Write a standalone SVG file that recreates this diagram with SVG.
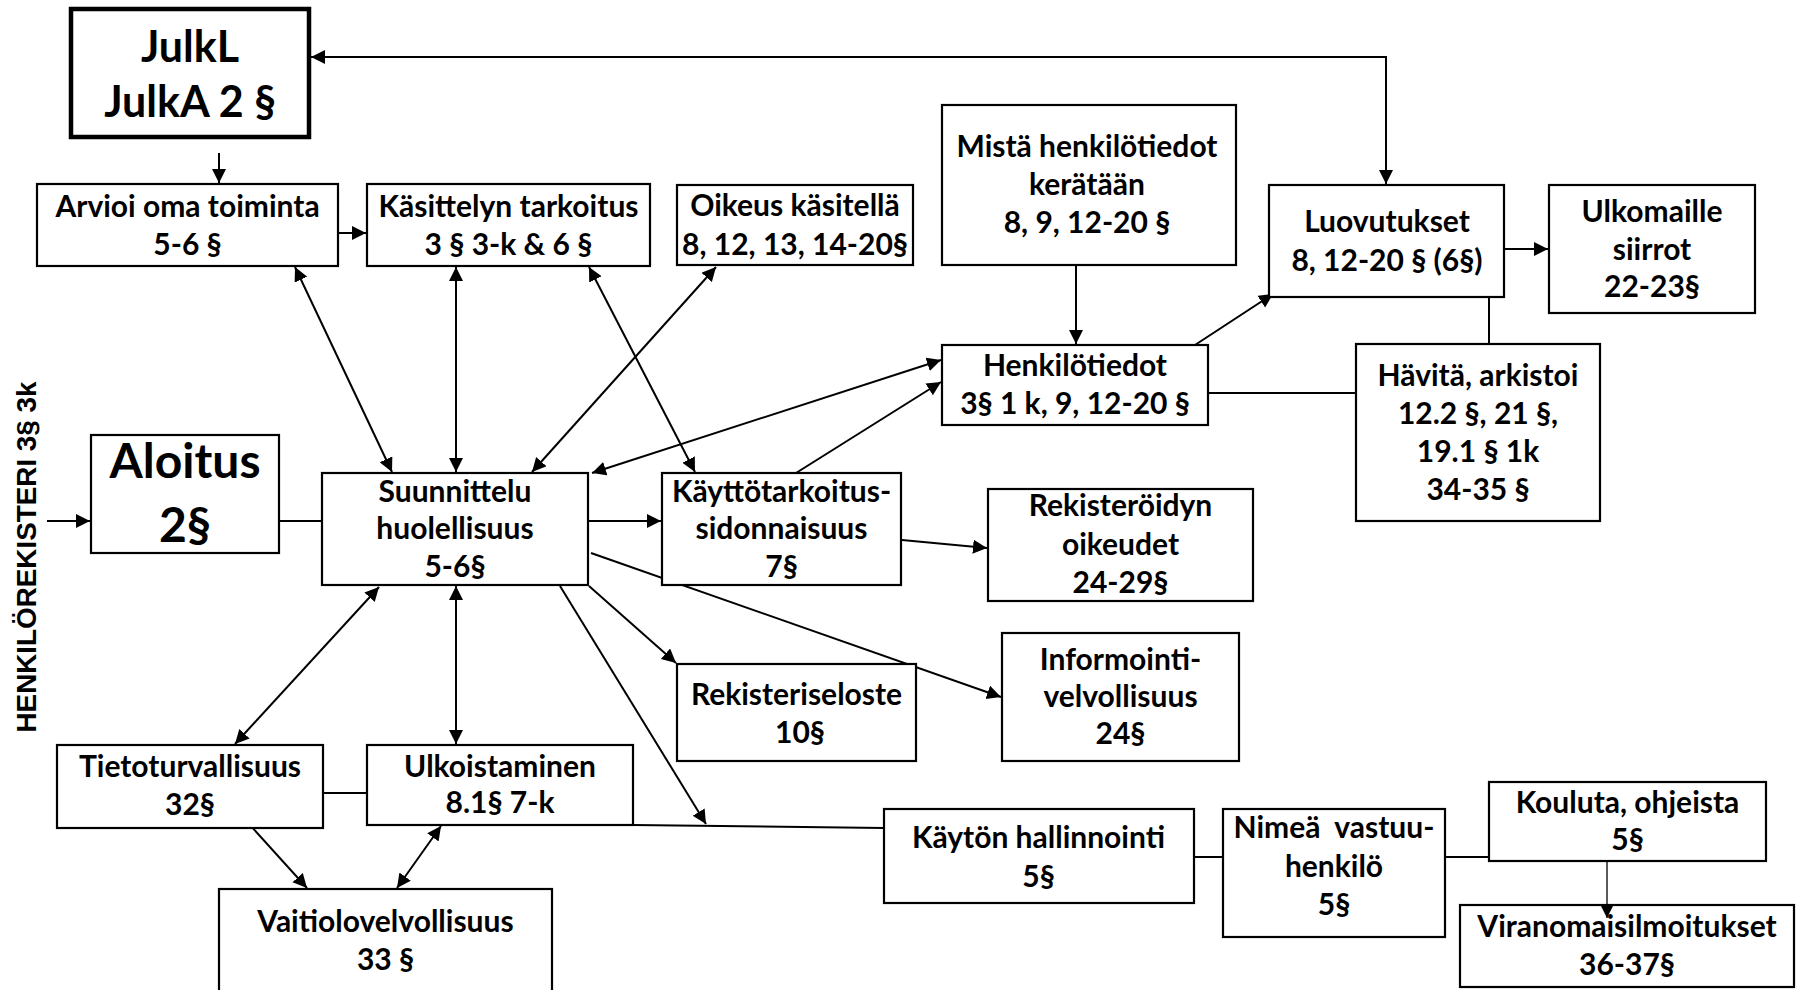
<svg xmlns="http://www.w3.org/2000/svg" width="1802" height="990" viewBox="0 0 1802 990">
<style>
.b{fill:#fff;stroke:#000;stroke-width:2.2}
.bk{fill:#fff;stroke:#000;stroke-width:4.5}
.t{font-family:Lato,'Liberation Sans',sans-serif;font-weight:700;font-size:30px;text-anchor:middle;fill:#000}
.tl{font-family:Lato,'Liberation Sans',sans-serif;font-weight:700;font-size:43px;text-anchor:middle;fill:#000}
.ta{font-family:Lato,'Liberation Sans',sans-serif;font-weight:700;font-size:48px;text-anchor:middle;fill:#000}
.c{fill:none;stroke:#000;stroke-width:2}
.a{marker-end:url(#ah)}
.d{marker-start:url(#ah);marker-end:url(#ah)}
</style>
<defs>
<marker id="ah" markerUnits="userSpaceOnUse" markerWidth="16" markerHeight="16" refX="14" refY="7" orient="auto-start-reverse" viewBox="0 0 16 16">
<path d="M0,0 L14,7 L0,14 z" fill="#000"/>
</marker>
<marker id="ahs" markerUnits="userSpaceOnUse" markerWidth="14" markerHeight="14" refX="13" refY="6.5" orient="auto" viewBox="0 0 14 14">
<path d="M0,0 L13,6.5 L0,13 z" fill="#000"/>
</marker>
</defs>
<rect width="1802" height="990" fill="#fff"/>

<g id="connectors">
<polyline class="c d" points="311,57 1386,57 1386,184"/>
<line class="c a" x1="219" y1="153" x2="219" y2="183"/>
<line class="c a" x1="338" y1="233" x2="366" y2="233"/>
<line class="c a" x1="618" y1="234" x2="647" y2="234"/>
<line class="c a" x1="1076" y1="265" x2="1076" y2="344"/>
<line class="c a" x1="1504" y1="249" x2="1548" y2="249"/>
<line class="c a" x1="1195" y1="345" x2="1273" y2="294"/>
<line class="c" x1="1489" y1="297" x2="1489" y2="344"/>
<line class="c" x1="1208" y1="393" x2="1356" y2="393"/>
<line class="c d" x1="295" y1="267" x2="392" y2="472"/>
<line class="c d" x1="456" y1="267" x2="456" y2="472"/>
<line class="c d" x1="716" y1="267" x2="532" y2="472"/>
<line class="c d" x1="589" y1="267" x2="695" y2="472"/>
<line class="c d" x1="592" y1="473" x2="941" y2="360"/>
<line class="c a" x1="796" y1="473" x2="941" y2="382"/>
<line class="c a" x1="47" y1="521" x2="90" y2="521"/>
<line class="c" x1="279" y1="521" x2="322" y2="521"/>
<line class="c a" x1="588" y1="521" x2="661" y2="521"/>
<line class="c a" x1="902" y1="540" x2="987" y2="548"/>
<line class="c a" x1="589" y1="586" x2="676" y2="663"/>
<line class="c a" x1="591" y1="553" x2="1001" y2="697"/>
<line class="c a" x1="560" y1="586" x2="706" y2="824"/>
<line class="c" x1="633" y1="825" x2="884" y2="828"/>
<line class="c d" x1="379" y1="587" x2="235" y2="744"/>
<line class="c d" x1="456" y1="586" x2="456" y2="744"/>
<line class="c" x1="323" y1="793" x2="367" y2="793"/>
<line class="c a" x1="250" y1="825" x2="307" y2="888"/>
<line class="c d" x1="441" y1="826" x2="397" y2="888"/>
<line class="c" x1="1194" y1="857" x2="1223" y2="857"/>
<line class="c" x1="1445" y1="857" x2="1489" y2="857"/>
</g>

<g id="n-julkl"><rect class="bk" x="71" y="9" width="238" height="128"/><text class="tl" x="190" y="62">JulkL</text><text class="tl" x="190" y="117">JulkA 2 §</text></g>
<g id="n-arvioi"><rect class="b" x="37" y="184" width="301" height="82"/><text class="t" x="187.5" y="217">Arvioi oma toiminta</text><text class="t" x="187.5" y="255">5-6 §</text></g>
<g id="n-kasittelyn"><rect class="b" x="367" y="184" width="283" height="82"/><text class="t" x="508.5" y="217">Käsittelyn tarkoitus</text><text class="t" x="508.5" y="255">3 § 3-k &amp; 6 §</text></g>
<g id="n-oikeus"><rect class="b" x="677" y="185" width="236" height="80"/><text class="t" x="795" y="216">Oikeus käsitellä</text><text class="t" x="795" y="255">8, 12, 13, 14-20§</text></g>
<g id="n-mista"><rect class="b" x="942" y="105" width="294" height="160"/><text class="t" x="1087" y="157">Mistä henkilötiedot</text><text class="t" x="1087" y="195">kerätään</text><text class="t" x="1087" y="233">8, 9, 12-20 §</text></g>
<g id="n-luovutukset"><rect class="b" x="1269" y="185" width="235" height="112"/><text class="t" x="1387" y="232">Luovutukset</text><text class="t" x="1387" y="271">8, 12-20 § (6§)</text></g>
<g id="n-ulkomaille"><rect class="b" x="1549" y="185" width="206" height="128"/><text class="t" x="1652" y="222">Ulkomaille</text><text class="t" x="1652" y="260">siirrot</text><text class="t" x="1652" y="297">22-23§</text></g>
<g id="n-henkilotiedot"><rect class="b" x="942" y="345" width="266" height="80"/><text class="t" x="1075" y="376">Henkilötiedot</text><text class="t" x="1075" y="414">3§ 1 k, 9, 12-20 §</text></g>
<g id="n-havita"><rect class="b" x="1356" y="344" width="244" height="177"/><text class="t" x="1478" y="386">Hävitä, arkistoi</text><text class="t" x="1478" y="424">12.2 §, 21 §,</text><text class="t" x="1478" y="462">19.1 § 1k</text><text class="t" x="1478" y="500">34-35 §</text></g>
<g id="n-aloitus"><rect class="b" x="91" y="435" width="188" height="118"/><text class="ta" x="185" y="478">Aloitus</text><text class="ta" x="185" y="542">2§</text></g>
<g id="n-suunnittelu"><rect class="b" x="322" y="473" width="266" height="112"/><text class="t" x="455" y="502">Suunnittelu</text><text class="t" x="455" y="539">huolellisuus</text><text class="t" x="455" y="577">5-6§</text></g>
<g id="n-kayttotarkoitus"><rect class="b" x="662" y="473" width="239" height="112"/><text class="t" x="781.5" y="502">Käyttötarkoitus-</text><text class="t" x="781.5" y="539">sidonnaisuus</text><text class="t" x="781.5" y="577">7§</text></g>
<g id="n-rekisteroidyn"><rect class="b" x="988" y="489" width="265" height="112"/><text class="t" x="1120.5" y="516">Rekisteröidyn</text><text class="t" x="1120.5" y="555">oikeudet</text><text class="t" x="1120.5" y="593">24-29§</text></g>
<g id="n-rekisteriseloste"><rect class="b" x="677" y="664" width="239" height="97"/><text class="t" x="796.5" y="705">Rekisteriseloste</text><text class="t" x="800" y="743">10§</text></g>
<g id="n-informointi"><rect class="b" x="1002" y="633" width="237" height="128"/><text class="t" x="1120.5" y="670">Informointi-</text><text class="t" x="1120.5" y="707">velvollisuus</text><text class="t" x="1120.5" y="744">24§</text></g>
<g id="n-tietoturvallisuus"><rect class="b" x="57" y="745" width="266" height="83"/><text class="t" x="190" y="777">Tietoturvallisuus</text><text class="t" x="190" y="815">32§</text></g>
<g id="n-ulkoistaminen"><rect class="b" x="367" y="745" width="266" height="80"/><text class="t" x="500" y="777">Ulkoistaminen</text><text class="t" x="500" y="813">8.1§ 7-k</text></g>
<g id="n-vaitiolo"><rect class="b" x="219" y="889" width="333" height="110"/><text class="t" x="385.5" y="932">Vaitiolovelvollisuus</text><text class="t" x="385.5" y="970">33 §</text></g>
<g id="n-kayton"><rect class="b" x="884" y="809" width="310" height="94"/><text class="t" x="1038.5" y="848">Käytön hallinnointi</text><text class="t" x="1038.5" y="887">5§</text></g>
<g id="n-nimea"><rect class="b" x="1223" y="809" width="222" height="128"/><text class="t" x="1334" y="838" xml:space="preserve">Nimeä  vastuu-</text><text class="t" x="1334" y="877">henkilö</text><text class="t" x="1334" y="915">5§</text></g>
<g id="n-kouluta"><rect class="b" x="1489" y="782" width="277" height="79"/><text class="t" x="1627.5" y="813">Kouluta, ohjeista</text><text class="t" x="1627.5" y="850">5§</text></g>
<g id="n-viranomais"><rect class="b" x="1460" y="905" width="334" height="82"/><text class="t" x="1627" y="937">Viranomaisilmoitukset</text><text class="t" x="1627" y="975">36-37§</text></g>
<g id="thin-arrow"><line x1="1607" y1="862" x2="1607" y2="918" stroke="#000" stroke-width="1.3" marker-end="url(#ahs)"/></g>

<g id="side-label"><text x="36" y="557" transform="rotate(-90 36 557)" font-family="'Liberation Sans',Arial,sans-serif" font-weight="700" font-size="28" text-anchor="middle" textLength="351" lengthAdjust="spacingAndGlyphs">HENKILÖREKISTERI 3§ 3k</text></g>
</svg>
